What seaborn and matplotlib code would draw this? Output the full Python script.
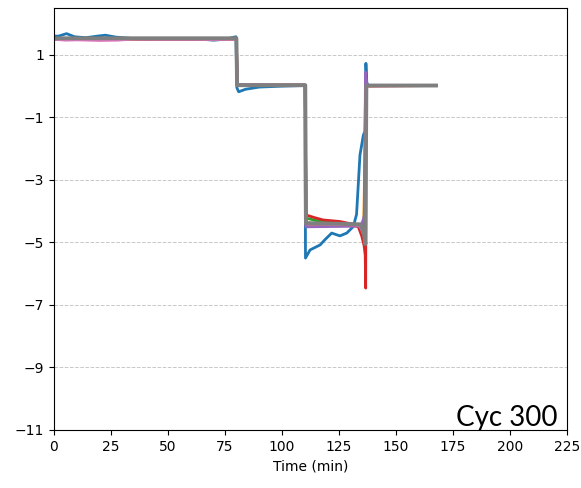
import matplotlib
matplotlib.use("Agg")
import matplotlib.pyplot as plt
import numpy as np
import pandas as pd
import seaborn as sns

# Per-run traces: time (min) and value at each knot
run1_t = [0, 2, 5.5, 9, 14, 19, 22.5, 27, 35, 45, 55, 65, 70, 75, 79.8, 80.2, 81, 84, 90, 100, 110.1,
          110.3, 112.3, 116.7, 119, 121.8, 125.4, 128.4, 131.3, 132.7, 134.2, 135.7, 136.4, 136.8, 137.2, 138, 167.5]
run1_y = [1.6, 1.6, 1.68, 1.58, 1.55, 1.6, 1.63, 1.57, 1.52, 1.5, 1.5, 1.5, 1.47, 1.5, 1.58, -0.05, -0.18, -0.1,
          -0.03, 0.0, 0.02, -5.5, -5.24, -5.08, -4.9, -4.7, -4.79, -4.7, -4.49, -4.1, -2.2, -1.56, -1.45, 0.73,
          0.1, 0.02, 0.02]

run2_t = [0, 80, 80.3, 110.2, 110.5, 130, 134, 135.8, 136.8, 167.5]
run2_y = [1.52, 1.52, 0.03, 0.03, -4.42, -4.45, -4.5, -4.7, 0.02, 0.02]

run3_t = [0, 80, 80.3, 110.2, 110.5, 115, 125, 132, 136, 136.8, 167.5]
run3_y = [1.53, 1.53, 0.03, 0.03, -4.22, -4.3, -4.38, -4.42, -4.6, 0.02, 0.02]

run4_t = [0, 80, 80.3, 110.2, 110.5, 114, 118, 125.4, 131.3, 133.5, 135, 136.0, 136.5, 136.7, 136.9, 137.4, 167.5]
run4_y = [1.5, 1.5, 0.03, 0.03, -4.12, -4.2, -4.28, -4.33, -4.42, -4.5, -4.8, -5.1, -5.4, -6.46, -0.05, 0.0, 0.02]

run5_t = [0, 80, 80.3, 110.2, 110.5, 134.5, 135.5, 136.3, 136.6, 137.0, 137.5, 167.5]
run5_y = [1.52, 1.52, 0.05, 0.03, -4.5, -4.48, -4.3, -4.1, 0.45, 0.15, 0.02, 0.02]

run6_t = [0, 80, 80.3, 110.2, 110.5, 134, 136.5, 136.9, 167.5]
run6_y = [1.52, 1.52, 0.03, 0.03, -4.4, -4.45, -4.8, 0.02, 0.02]

run7_t = [0, 5, 10, 20, 28, 35, 45, 60, 70, 80, 80.3, 110.2, 110.5, 134, 136.5, 136.9, 167.5]
run7_y = [1.5, 1.47, 1.48, 1.46, 1.47, 1.51, 1.5, 1.5, 1.49, 1.5, 0.03, 0.03, -4.4, -4.45, -4.85, 0.02, 0.02]

run8_t = [0, 80, 80.3, 110.2, 110.5, 134.5, 136.0, 136.6, 137.0, 167.5]
run8_y = [1.53, 1.53, 0.03, 0.03, -4.38, -4.42, -4.75, -5.05, 0.02, 0.02]

runs = [(run1_t, run1_y), (run2_t, run2_y), (run3_t, run3_y), (run4_t, run4_y),
        (run5_t, run5_y), (run6_t, run6_y), (run7_t, run7_y), (run8_t, run8_y)]

x_ticks = [0, 25, 50, 75, 100, 125, 150, 175, 200, 225]
y_ticks = [1, -1, -3, -5, -7, -9, -11]

fig = plt.figure(figsize=(5.81, 4.88), dpi=100)
ax = fig.add_axes([54 / 581, 1 - 430 / 488, 513 / 581, 422 / 488])

palette = sns.color_palette("tab10", 8)
for i, (t, y) in enumerate(runs):
    df = pd.DataFrame({"time": t, "value": y})
    lw = 2.8 if i == 7 else 2.0
    sns.lineplot(data=df, x="time", y="value", ax=ax, color=palette[i], linewidth=lw,
                 sort=False, estimator=None)

ax.set_xlim(0, 225)
ax.set_ylim(-11, 2.5)
ax.set_xticks(x_ticks)
ax.set_yticks(y_ticks)
ax.set_yticklabels([f"{v}".replace("-", "\u2212") for v in y_ticks])
ax.yaxis.grid(True, linestyle="--", color="#c8c8c8", linewidth=0.7)
ax.set_axisbelow(True)
ax.set_xlabel("Time (min)", fontsize=10)
ax.set_ylabel("")
ax.tick_params(labelsize=10)

fig.text(557 / 581, 1 - 426 / 488, "Cyc 300", ha="right", va="baseline",
         fontsize=20, family="Lato")

fig.savefig("out.png", dpi=100)
